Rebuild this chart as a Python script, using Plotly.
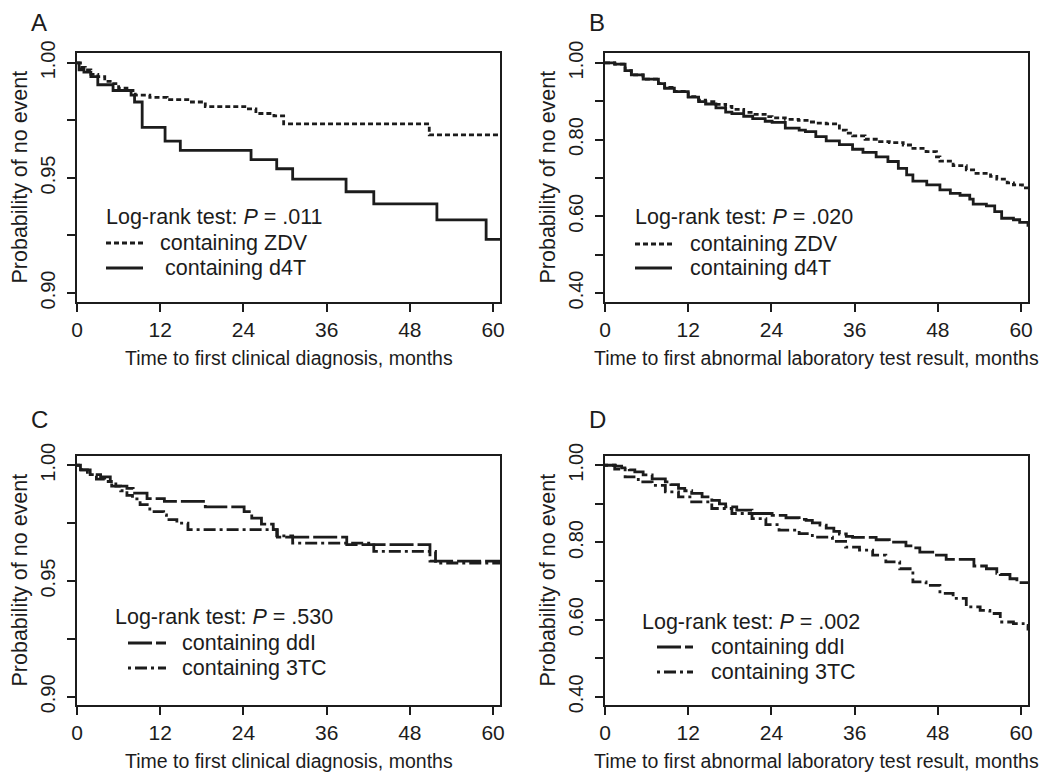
import plotly.graph_objects as go
from plotly.subplots import make_subplots

# Panel A: time to first clinical diagnosis (ZDV vs d4T)
a_zdv_t = [0, 0.5, 1.2, 2.0, 3.0, 4.0, 5.0, 6.0, 7.2, 8.4, 10.5, 13.0, 16.5, 18.5, 24.2, 25.8, 28.4, 29.8, 50.8, 61]
a_zdv_s = [1.0, 0.998, 0.997, 0.995, 0.994, 0.992, 0.991, 0.989, 0.988, 0.986, 0.985, 0.984, 0.983, 0.981, 0.980, 0.978, 0.977, 0.9735, 0.9687, 0.9687]
a_d4t_t = [0, 0.3, 1.0, 2.0, 3.0, 5.2, 7.8, 8.3, 9.4, 12.7, 14.9, 25.1, 28.8, 31.1, 38.8, 42.8, 51.9, 59.0, 61]
a_d4t_s = [1.0, 0.997, 0.996, 0.994, 0.9905, 0.988, 0.986, 0.983, 0.972, 0.966, 0.962, 0.958, 0.954, 0.9495, 0.944, 0.9387, 0.9318, 0.9233, 0.9233]

# Panel B: time to first abnormal laboratory result (ZDV vs d4T)
b_zdv_t = [0, 1.4, 2.9, 3.8, 5.5, 7.7, 8.6, 10, 12, 13.5, 14.5, 16, 17.4, 18.3, 20, 21.3, 23.1, 24.1, 26, 27.9,
           29.5, 30.4, 31.9, 33.8, 34.8, 35.7, 37.5, 39.6, 41, 43, 44.4, 46.3, 47.8, 48.3, 50.2, 52.1, 53.5, 55.6,
           56.5, 58, 58.9, 60.2, 61]
b_zdv_s = [1.0, 0.997, 0.98, 0.969, 0.958, 0.946, 0.936, 0.926, 0.912, 0.903, 0.899, 0.892, 0.887, 0.879, 0.871,
           0.866, 0.860, 0.857, 0.853, 0.850, 0.846, 0.843, 0.841, 0.825, 0.817, 0.810, 0.801, 0.795, 0.792, 0.786,
           0.777, 0.769, 0.755, 0.744, 0.732, 0.721, 0.712, 0.704, 0.697, 0.687, 0.682, 0.674, 0.667]
b_d4t_t = [0, 1.4, 2.9, 3.8, 5.5, 7.7, 8.6, 10, 12, 13.5, 14.5, 16, 17.4, 18.3, 20, 21.3, 23.1, 24.1, 26, 28,
           28.9, 30.4, 31.9, 33.8, 35.7, 37.2, 39.1, 40.8, 42.3, 43.5, 44.4, 46.4, 48.3, 49.8, 51.2, 52.6, 53.1,
           55, 56.2, 57.2, 58.9, 59.8, 61]
b_d4t_s = [1.0, 0.997, 0.98, 0.969, 0.958, 0.946, 0.934, 0.925, 0.911, 0.899, 0.893, 0.883, 0.872, 0.868, 0.861,
           0.855, 0.848, 0.845, 0.830, 0.825, 0.821, 0.808, 0.797, 0.787, 0.775, 0.767, 0.755, 0.743, 0.725, 0.708,
           0.692, 0.682, 0.669, 0.660, 0.655, 0.645, 0.632, 0.627, 0.612, 0.595, 0.591, 0.584, 0.573]

# Panel C: time to first clinical diagnosis (ddI vs 3TC)
c_ddi_t = [0, 0.5, 1.9, 3.4, 4.8, 5.6, 7.2, 8.1, 10.1, 12.6, 18.5, 24.1, 25.2, 26.6, 28.3, 28.9, 38.9, 50.9, 61]
c_ddi_s = [1.0, 0.998, 0.996, 0.995, 0.993, 0.991, 0.990, 0.988, 0.9856, 0.9844, 0.982, 0.980, 0.9772, 0.9746,
           0.9722, 0.969, 0.9657, 0.9586, 0.9586]
c_3tc_t = [0, 0.6, 1.5, 2.8, 4.0, 5.0, 6.3, 7.2, 8.0, 9.1, 10.5, 12.5, 12.9, 14.4, 16.0, 28.8, 31.1, 42.8, 51.7, 61]
c_3tc_s = [1.0, 0.998, 0.996, 0.994, 0.993, 0.991, 0.989, 0.987, 0.9855, 0.983, 0.980, 0.9786, 0.9765, 0.975,
           0.9722, 0.9695, 0.9664, 0.9628, 0.9578, 0.9578]

# Panel D: time to first abnormal laboratory result (ddI vs 3TC)
d_ddi_t = [0, 1.5, 2.4, 3.5, 4.3, 5.5, 6.8, 8.7, 9.5, 10.6, 11.5, 12.5, 14, 15.4, 16.5, 17.4, 19, 21.2, 24.1, 26.1,
           28, 29, 29.9, 31, 31.9, 33, 33.8, 34.8, 35.7, 39.1, 41, 43.4, 44.5, 45.4, 47.8, 49.2, 51, 53.2, 55, 56.5,
           57, 58.4, 59.4, 61]
d_ddi_s = [1.0, 0.998, 0.993, 0.988, 0.983, 0.975, 0.965, 0.957, 0.950, 0.940, 0.934, 0.927, 0.918, 0.909, 0.900,
           0.892, 0.884, 0.875, 0.870, 0.864, 0.860, 0.857, 0.851, 0.845, 0.837, 0.829, 0.822, 0.816, 0.813, 0.807,
           0.801, 0.791, 0.786, 0.775, 0.767, 0.756, 0.756, 0.739, 0.732, 0.720, 0.717, 0.706, 0.696, 0.696]
d_3tc_t = [0, 1.4, 2.9, 4.8, 6.8, 8.7, 10.6, 12.5, 15.4, 18.3, 21.2, 23.2, 25.1, 28, 29.9, 32.8, 34.7, 36.7, 38.6,
           40.5, 42.5, 44.4, 46.3, 48.3, 50.2, 52.1, 54.1, 55.5, 57, 58.9, 60.3, 61]
d_3tc_s = [1.0, 0.99, 0.970, 0.957, 0.948, 0.931, 0.918, 0.905, 0.888, 0.875, 0.862, 0.846, 0.832, 0.823, 0.814,
           0.803, 0.788, 0.780, 0.767, 0.750, 0.732, 0.698, 0.689, 0.668, 0.655, 0.633, 0.624, 0.616, 0.594, 0.590,
           0.585, 0.572]

x_ticks = [0, 12, 24, 36, 48, 60]
clin_ticks = [1.0, 0.975, 0.95, 0.925, 0.90]
clin_text = ["1.00", "", "0.95", "", "0.90"]
lab_ticks = [1.0, 0.9, 0.8, 0.7, 0.6, 0.5, 0.4]
lab_text = ["1.00", "", "0.80", "", "0.60", "", "0.40"]

p_values = [".011", ".020", ".530", ".002"]
x_titles = ["Time to first clinical diagnosis, months",
            "Time to first abnormal laboratory test result, months",
            "Time to first clinical diagnosis, months",
            "Time to first abnormal laboratory test result, months"]
y_title = "Probability of no event"

INK = "#1c1c1c"
FONT = "Liberation Sans, Arial, sans-serif"
SOLID = "solid"
SHORT_DASH = "5px,3px"
LONG_DASH = "24px,4px"
DOT_DASH = "3px,4px,12px,4px"

fig = make_subplots(rows=2, cols=2, print_grid=False)

panels = [
    # (row, col, series list)
    (1, 1, [(a_zdv_t, a_zdv_s, "containing ZDV", SHORT_DASH),
            (a_d4t_t, a_d4t_s, " containing d4T", SOLID)]),
    (1, 2, [(b_zdv_t, b_zdv_s, "containing ZDV", SHORT_DASH),
            (b_d4t_t, b_d4t_s, "containing d4T", SOLID)]),
    (2, 1, [(c_ddi_t, c_ddi_s, "containing ddI", LONG_DASH),
            (c_3tc_t, c_3tc_s, "containing 3TC", DOT_DASH)]),
    (2, 2, [(d_ddi_t, d_ddi_s, "containing ddI", LONG_DASH),
            (d_3tc_t, d_3tc_s, "containing 3TC", DOT_DASH)]),
]

for row, col, series in panels:
    for t, s, name, dash in series:
        fig.add_trace(
            go.Scatter(
                x=t, y=s, name=name, mode="lines", line_shape="hv",
                line=dict(color=INK, width=2.8, dash=dash),
                showlegend=False, hoverinfo="skip",
            ),
            row=row, col=col,
        )

# the page body has an 8px margin, so the figure is 16px smaller than the window
OFF = 8
W, H = 1050 - 2 * OFF, 783 - 2 * OFF


def px(x):
    return (x - OFF) / W


def py(y):
    return 1 - (y - OFF) / H


# panel boxes in window pixels
x_dom = [(77, 500), (605, 1028)]
y_dom = [(53, 302), (456, 705)]
y_ranges = {(1, 1): [0.8961, 1.0043], (1, 2): [0.3765, 1.026],
            (2, 1): [0.8965, 1.004], (2, 2): [0.379, 1.024]}

annotations = []
shapes = []
for i, (row, col, series) in enumerate(panels):
    x0, x1 = x_dom[col - 1]
    top, bot = y_dom[row - 1]
    clinical = col == 1
    fig.update_xaxes(
        domain=[px(x0), px(x1)], range=[0, 61], tickvals=x_ticks,
        showline=True, mirror=True, linecolor=INK, linewidth=2,
        ticks="outside", ticklen=8, tickwidth=1.5, tickcolor=INK,
        showgrid=False, zeroline=False, automargin=False,
        tickfont=dict(size=21, color=INK),
        row=row, col=col,
    )
    fig.update_yaxes(
        domain=[py(bot), py(top)], range=y_ranges[(row, col)],
        tickvals=clin_ticks if clinical else lab_ticks,
        ticktext=clin_text if clinical else lab_text,
        tickangle=-90, ticklabelstandoff=4,
        showline=True, mirror=True, linecolor=INK, linewidth=2,
        ticks="outside", ticklen=8, tickwidth=1.5, tickcolor=INK,
        showgrid=False, zeroline=False, automargin=False,
        tickfont=dict(size=20, color=INK),
        row=row, col=col,
    )
    # axis titles
    annotations.append(dict(
        text=x_titles[i], x=px((x0 + x1) / 2), y=py(bot + 56),
        xref="paper", yref="paper", xanchor="center", yanchor="middle",
        showarrow=False, font=dict(size=19.5, color=INK, family=FONT),
    ))
    annotations.append(dict(
        text=y_title, x=px(x0 - 58), y=py((top + bot) / 2),
        xref="paper", yref="paper", xanchor="center", yanchor="middle",
        showarrow=False, textangle=-90,
        font=dict(size=21.5, color=INK, family=FONT),
    ))

# legend boxes (window pixels): title left, title y, key x0, key x1, label left, row ys
legend_geo = [
    (104, 217, 106, 143, 158, (243, 268)),
    (633, 217, 635, 672, 688, (244, 268)),
    (113, 617, 128, 166, 180, (643, 668)),
    (640, 622, 657, 693, 709, (647, 672)),
]
for i, (row, col, series) in enumerate(panels):
    tx, ty, kx0, kx1, lx, rows = legend_geo[i]
    annotations.append(dict(
        text="Log-rank test: <i>P</i> = " + p_values[i], x=px(tx), y=py(ty),
        xref="paper", yref="paper", xanchor="left", yanchor="middle",
        showarrow=False, font=dict(size=21.5, color=INK, family=FONT),
    ))
    for (t, s, name, dash), ry in zip(series, rows):
        shapes.append(dict(
            type="line", xref="paper", yref="paper",
            x0=px(kx0), x1=px(kx1), y0=py(ry), y1=py(ry),
            line=dict(color=INK, width=2.8, dash=dash),
        ))
        annotations.append(dict(
            text=name.strip(), x=px(lx + (5 if name.startswith(" ") else 0)), y=py(ry),
            xref="paper", yref="paper", xanchor="left", yanchor="middle",
            showarrow=False, font=dict(size=21.5, color=INK, family=FONT),
        ))

letters = [("A", 39, 22), ("B", 597, 22), ("C", 39, 419), ("D", 597, 419)]
for s, lx, ly in letters:
    annotations.append(dict(
        text=s, x=px(lx), y=py(ly), xref="paper", yref="paper",
        xanchor="center", yanchor="middle",
        showarrow=False, font=dict(size=24, color=INK, family=FONT),
    ))

fig.update_layout(
    width=W, height=H,
    margin=dict(l=0, r=0, t=0, b=0, autoexpand=False),
    paper_bgcolor="white", plot_bgcolor="white",
    font=dict(family=FONT, color=INK),
    showlegend=False,
    annotations=annotations,
    shapes=shapes,
)

fig.write_html("out.html")
